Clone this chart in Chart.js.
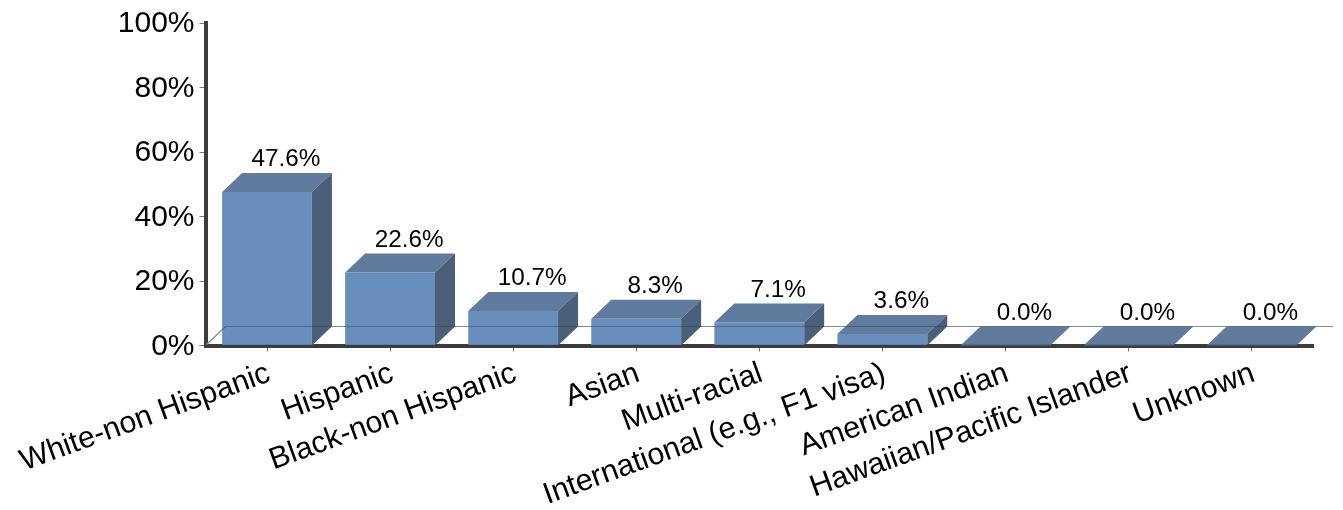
<!DOCTYPE html>
<html><head><meta charset="utf-8">
<style>html,body{margin:0;padding:0;background:#fff}#w{position:relative;width:1343px;height:510px}canvas{display:block}</style>
<script src="https://cdn.jsdelivr.net/npm/chart.js@4"></script>
</head><body><div id="w"><canvas id="c" width="1343" height="510"></canvas></div>
<script>
const categories = ["White-non Hispanic","Hispanic","Black-non Hispanic","Asian","Multi-racial","International (e.g., F1 visa)","American Indian","Hawaiian/Pacific Islander","Unknown"];
const values = [47.6,22.6,10.7,8.3,7.1,3.6,0,0,0];
const DX = 20, DY = 19;
const FONT = '"Liberation Sans", Arial, sans-serif';
function wall(c,a,b){c.beginPath(); c.moveTo(a.left+1,b-1); c.lineTo(a.left+DX,b-DY); c.lineTo(1333,b-DY); c.stroke();}
const depth = {
  id:'depth',
  beforeDatasetsDraw(ch){
    const c=ch.ctx, a=ch.chartArea, b=a.bottom, m=ch.getDatasetMeta(0).data;
    c.save();
    c.strokeStyle='#b8b8b8'; c.lineWidth=1.2;
    wall(c,a,b);
    m.forEach(e=>{
      const p=e.getProps(['x','y','width']);
      const l=p.x-p.width/2,r=p.x+p.width/2;
      c.fillStyle='rgba(84,113,150,0.93)';
      c.beginPath();c.moveTo(l,p.y);c.lineTo(l+DX,p.y-DY);c.lineTo(r+DX,p.y-DY);c.lineTo(r,p.y);c.closePath();c.fill();
      if(b-p.y>0.5){
        c.fillStyle='rgba(62,83,110,0.93)';
        c.beginPath();c.moveTo(r,p.y);c.lineTo(r+DX,p.y-DY);c.lineTo(r+DX,b-DY);c.lineTo(r,b);c.closePath();c.fill();
      }
    });
    c.restore();
  },
  afterDatasetsDraw(ch){
    const c=ch.ctx, a=ch.chartArea, m=ch.getDatasetMeta(0).data;
    c.save();
    c.strokeStyle='rgba(40,50,70,0.35)'; c.lineWidth=1.2;
    wall(c,a,a.bottom);
    c.fillStyle='#000'; c.font='24.3px '+FONT; c.textAlign='center'; c.textBaseline='alphabetic';
    m.forEach((e,i)=>{
      const p=e.getProps(['x','y']);
      c.fillText(values[i].toFixed(1)+'%',p.x+19,p.y-DY-7);
    });
    c.restore();
  }
};
new Chart(document.getElementById('c'),{
  type:'bar',
  data:{labels:categories,datasets:[{data:values,backgroundColor:'rgba(92,135,182,0.93)',barPercentage:0.73,categoryPercentage:1,borderWidth:0}]},
  plugins:[depth],
  options:{
    responsive:false,animation:false,
    layout:{autoPadding:false,padding:{top:20,right:30,left:0,bottom:0}},
    plugins:{legend:{display:false},tooltip:{enabled:false},title:{display:false}},
    scales:{
      x:{
        afterFit(s){s.height=164.5;},
        afterUpdate(s){
          const f=s._computeLabelItems.bind(s);
          s._computeLabelItems=(ca)=>{const it=f(ca);it.forEach(i=>{i.options.translation[0]+=2;});return it;};
        },
        border:{color:'#3c3c3c',width:4},
        grid:{display:true,drawOnChartArea:false,offset:false,tickLength:6,color:'#777'},
        ticks:{autoSkip:false,maxRotation:20,minRotation:20,color:'#000',font:{family:FONT,size:30.4},padding:4}
      },
      y:{
        min:0,max:100,
        afterFit(s){s.width=205.5;},
        afterUpdate(s){
          const f=s._computeLabelItems.bind(s);
          s._computeLabelItems=(ca)=>{const it=f(ca);it.forEach(i=>{i.textOffset+=0.5;});return it;};
        },
        border:{color:'#3c3c3c',width:4},
        grid:{display:true,drawOnChartArea:false,tickLength:6,color:'#777'},
        ticks:{stepSize:20,color:'#000',font:{family:FONT,size:30},padding:5,callback:v=>v+'%'}
      }
    }
  }
});
</script></body></html>
